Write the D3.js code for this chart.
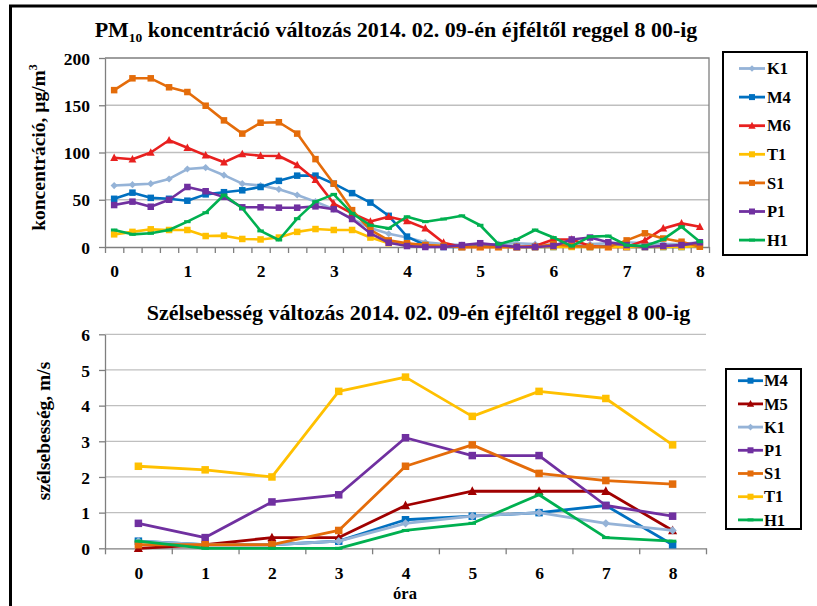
<!DOCTYPE html>
<html><head><meta charset="utf-8">
<script src="https://cdn.jsdelivr.net/npm/d3@7"></script>
<style>
body{margin:0;background:#fff;}
svg text{font-family:"Liberation Serif","Times New Roman",Tinos,"Noto Serif","DejaVu Serif",Times,serif !important;font-weight:bold;fill:#000;}
</style></head>
<body><svg id="c" width="817" height="606"></svg>
<script>
// ---------- data ----------
const hourLabels = ["0","1","2","3","4","5","6","7","8"];
const pmSeriesNames = ["K1","M4","M6","T1","S1","P1","H1"];
const pmK1 = [65,66,67,72,82.5,84,76,67,65,61,55,48,40,30,20,14,10,5,3,2,2,3,4,3,2,2,3,4,5,4,3,3,5];
const pmM4 = [51,57.5,52,51,49,55.7,58,60,63.5,70,75.5,75.5,67,57,47,33,11,2,0,0,1,1,0,0,0,1,0,1,0,0,0,0,3];
const pmM6 = [94.5,92.8,100,113,105,97,89.6,98.4,96.6,96.3,86.8,71,46,35.6,27,32,27.5,19.7,4.6,0,0,0,0,1,8,8,1,0,0,7,19.7,25,21.5];
const pmT1 = [13.4,16,18.7,18,18,11.6,12,8.5,8,10,16,19,18,18,10,4,3,2,1,0,0,0,0,0,0,0,0,0,0,0,0,0,1];
const pmS1 = [166,178.5,178.5,169,164,149.5,134,120,131.5,132,120,93,67,39,18,7,4,2,1,0,0,0,0,0,3,1,0,0,7,14.5,9,5.6,0.3];
const pmP1 = [44.4,48,42.6,50,63.5,59,53,42,42,41.6,41.6,43,40,29.6,14.5,4.5,1,0,0,2,4,2,0,0,1,8,10,5,2,0,1,2,5];
const pmH1 = [18,13.4,14.5,18,26.8,36.3,55,41,17,7.4,30,48,55.7,35.6,23,19.7,32,26.8,29.6,33,23,3,8,18,10,1,11,11.6,2,1,8,21.5,5.6];
const pmYTicks = [0,50,100,150,200];

const windSeriesNames = ["M4","M5","K1","P1","S1","T1","H1"];
const wM4 = [0.2,0.1,0.1,0.2,0.8,0.9,1.0,1.2,0.1];
const wM5 = [0,0.1,0.3,0.3,1.2,1.6,1.6,1.6,0.5];
const wK1 = [0.2,0.1,0.1,0.2,0.7,0.9,1.0,0.7,0.5];
const wP1 = [0.7,0.3,1.3,1.5,3.1,2.6,2.6,1.2,0.9];
const wS1 = [0.1,0.1,0.1,0.5,2.3,2.9,2.1,1.9,1.8];
const wT1 = [2.3,2.2,2.0,4.4,4.8,3.7,4.4,4.2,2.9];
const wH1 = [0.2,0,0,0,0.5,0.7,1.5,0.3,0.2];
const windYTicks = [0,1,2,3,4,5,6];

// ---------- styles ----------
const colors = {K1:"#95B3D7",M4:"#0070C0",M6:"#E8201F",T1:"#FFC000",S1:"#E46C0A",P1:"#7030A0",H1:"#00B050",M5:"#A00000"};
const markers = {K1:"diamond",M4:"square",M6:"triangle",T1:"square",S1:"square",P1:"square",H1:"dash",M5:"triangle"};

const pmData = {K1:pmK1,M4:pmM4,M6:pmM6,T1:pmT1,S1:pmS1,P1:pmP1,H1:pmH1};
const windData = {M4:wM4,M5:wM5,K1:wK1,P1:wP1,S1:wS1,T1:wT1,H1:wH1};

const svg = d3.select("#c");

// frame
svg.append("line").attr("x1",9).attr("x2",817).attr("y1",6).attr("y2",6).attr("stroke","#000").attr("stroke-width",3);
svg.append("line").attr("x1",10.5).attr("x2",10.5).attr("y1",5).attr("y2",606).attr("stroke","#000").attr("stroke-width",3);

function drawMarker(g, type, x, y, color, size){
  if(type==="square"){
    g.append("rect").attr("x",x-size/2).attr("y",y-size/2).attr("width",size).attr("height",size).attr("fill",color);
  } else if(type==="triangle"){
    const s=size*1.1;
    g.append("path").attr("d",`M${x},${y-s*0.6}L${x+s*0.55},${y+s*0.45}L${x-s*0.55},${y+s*0.45}Z`).attr("fill",color);
  } else if(type==="diamond"){
    const s=size*0.55;
    g.append("path").attr("d",`M${x},${y-s}L${x+s},${y}L${x},${y+s}L${x-s},${y}Z`).attr("fill",color);
  } else if(type==="dash"){
    g.append("rect").attr("x",x-size/2).attr("y",y-1.5).attr("width",size).attr("height",3).attr("fill",color);
  }
}

function drawChart(cfg){
  const {names,data,n,left,right,top,bottom,yMax,yTicks,labelEvery,mSize,xLabelY,frameTopRight,sw} = cfg;
  const xb = d3.scaleLinear().domain([-0.5,n-0.5]).range([left,right]);
  const y = d3.scaleLinear().domain([0,yMax]).range([bottom,top]);
  const g = svg.append("g");
  g.selectAll("line.grid").data(yTicks.filter(t=>t>0 && (!frameTopRight || t<yMax))).enter().append("line")
    .attr("x1",left).attr("x2",right).attr("y1",d=>y(d)).attr("y2",d=>y(d))
    .attr("stroke","#BFBFBF").attr("stroke-width",1.3);
  if(frameTopRight){
    g.append("path").attr("d",`M${left},${top}H${right}V${bottom}`).attr("fill","none").attr("stroke","#7F7F7F").attr("stroke-width",1.3);
  }
  const ya = g.append("g").attr("transform",`translate(${left},0)`)
    .call(d3.axisLeft(y).tickValues(yTicks).tickSize(6).tickSizeOuter(0).tickPadding(9).tickFormat(d3.format("d")));
  ya.select(".domain").attr("stroke","#7F7F7F").attr("stroke-width",1.3);
  ya.selectAll(".tick line").attr("stroke","#7F7F7F").attr("stroke-width",1.3);
  ya.selectAll("text").style("font-size","17.5px").attr("fill","#000").attr("dy","0.35em");
  const boundaries = d3.range(n+1).map(k=>k-0.5);
  const xa = g.append("g").attr("transform",`translate(0,${bottom})`)
    .call(d3.axisBottom(xb).tickValues(boundaries).tickSize(6).tickSizeOuter(0).tickFormat(""));
  xa.select(".domain").attr("stroke","#7F7F7F").attr("stroke-width",1.3);
  xa.selectAll(".tick line").attr("stroke","#7F7F7F").attr("stroke-width",1.3);
  const labelIdx = d3.range(0,n,labelEvery);
  const xl = g.append("g").attr("transform",`translate(0,${xLabelY})`)
    .call(d3.axisBottom(xb).tickValues(labelIdx).tickSize(0).tickPadding(0).tickFormat(d=>hourLabels[d/labelEvery]));
  xl.select(".domain").remove();
  xl.selectAll("text").style("font-size","17.5px").attr("fill","#000").attr("y",0).attr("dy","0");
  const line = d3.line().x((d,i)=>xb(i)).y(d=>y(d));
  names.forEach(name=>{
    const vals = data[name];
    const sg = g.append("g");
    sg.append("path").attr("d",line(vals)).attr("fill","none").attr("stroke",colors[name]).attr("stroke-width",sw).attr("stroke-linejoin","round");
    vals.forEach((v,i)=>drawMarker(sg,markers[name],xb(i),y(v),colors[name],mSize));
  });
}

drawChart({names:pmSeriesNames,data:pmData,n:33,left:105,right:709,top:58,bottom:247,yMax:200,yTicks:pmYTicks,labelEvery:4,mSize:6.5,xLabelY:277,frameTopRight:true,sw:2.6});
drawChart({names:windSeriesNames,data:windData,n:9,left:105,right:706,top:334.3,bottom:548.3,yMax:6,yTicks:windYTicks,labelEvery:1,mSize:7.5,xLabelY:579,frameTopRight:false,sw:2.8});

// titles
const t1 = svg.append("text").attr("x",396).attr("y",37).attr("text-anchor","middle").style("font-size","22px");
t1.append("tspan").text("PM");
t1.append("tspan").text("10").style("font-size","13.5px").attr("dy",5);
t1.append("tspan").text(" koncentráció változás 2014. 02. 09-én éjféltől reggel 8 00-ig").attr("dy",-5);

svg.append("text").attr("x",418.5).attr("y",320).attr("text-anchor","middle").style("font-size","22px")
  .text("Szélsebesség változás 2014. 02. 09-én éjféltől reggel 8 00-ig");

// axis titles
const yl1 = svg.append("text").attr("transform","translate(45,147.5) rotate(-90)").attr("text-anchor","middle").style("font-size","19.5px");
yl1.append("tspan").text("koncentráció, µg/m");
yl1.append("tspan").text("3").style("font-size","12px").attr("dy",-8);
svg.append("text").attr("transform","translate(50,431) rotate(-90)").attr("text-anchor","middle").style("font-size","19.5px")
  .text("szélsebesség, m/s");
svg.append("text").attr("x",405).attr("y",599).attr("text-anchor","middle").style("font-size","16.5px").text("óra");

// legends
function legend(names, x0, y0, w, h, firstY, step, lx1, lx2, tx, mSize){
  const g = svg.append("g");
  g.append("rect").attr("x",x0).attr("y",y0).attr("width",w).attr("height",h).attr("fill","#fff").attr("stroke","#000").attr("stroke-width",2);
  names.forEach((name,i)=>{
    const yy = firstY + i*step;
    g.append("line").attr("x1",lx1).attr("x2",lx2).attr("y1",yy).attr("y2",yy).attr("stroke",colors[name]).attr("stroke-width",2.8);
    drawMarker(g,markers[name],(lx1+lx2)/2,yy,colors[name],mSize);
    g.append("text").attr("x",tx).attr("y",yy).attr("dy","0.35em").style("font-size","16.5px").text(name);
  });
}
legend(pmSeriesNames,723,52,84,203,68.5,28.6,739,765,767,6);
legend(windSeriesNames,726,369,75,160,380.7,23.2,738,763,764,6);
</script></body></html>
